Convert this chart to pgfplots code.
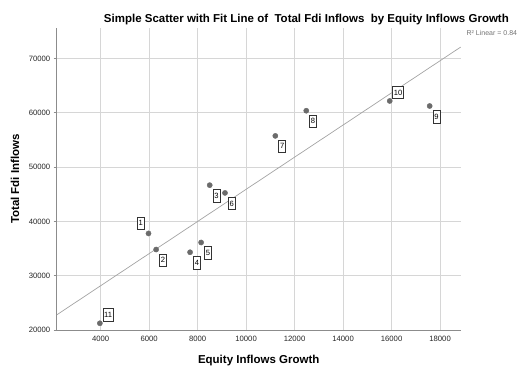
\documentclass[border=0pt]{standalone}
\usepackage{pgfplots}
\pgfplotsset{compat=1.18}
\usepackage{pgfplotstable}
\usepackage{fontspec}
\setmainfont{Liberation Sans}

\definecolor{dotgray}{HTML}{6B6B6B}
\definecolor{fitgray}{HTML}{A3A3A3}
\definecolor{gridgray}{HTML}{D6D6D6}
\definecolor{axisgray}{HTML}{8C8C8C}

% equity inflows growth, total FDI inflows, case number
\pgfplotstableread{
x y lab
6290 34815 2
8500 46667 3
7690 34315 4
8145 36111 5
9130 45240 6
11205 55740 7
12481 60370 8
17570 61240 9
}\lowright
\pgfplotstableread{
x y lab
5976 37778 1
}\upleft
\pgfplotstableread{
x y lab
15923 62167 10
3970 21240 11
}\upright

\pgfplotsset{
  casemarks/.style={only marks, mark=*, mark size=2.6pt, dotgray,
    nodes near coords, point meta=explicit symbolic,
    every node near coord/.append style={draw=black!80, line width=0.5pt, fill=white,
      text=black, font=\fontsize{7.6}{9}\selectfont, inner sep=1.4pt,
      minimum height=12.5pt, anchor=center}},
}

\begin{document}
\begin{tikzpicture}
\path[use as bounding box] (0,0) rectangle (519pt,368pt);
\begin{axis}[
  scale only axis,
  width=404pt, height=302pt,
  at={(56.7pt,38pt)}, anchor=south west,
  xmin=2190, xmax=18850,
  ymin=20000, ymax=75600,
  xtick={4000,6000,...,18000},
  ytick={20000,30000,...,70000},
  axis x line*=bottom, axis y line*=left,
  axis line style={axisgray, line width=0.6pt, -},
  grid=major,
  major grid style={gridgray, line width=0.6pt},
  x tick style={draw=none},
  y tick style={axisgray, line width=0.6pt},
  tick align=outside,
  major tick length=3pt,
  tick label style={font=\fontsize{7.7}{9}\selectfont, text=black!85},
  /pgf/number format/assume math mode=true,
  /pgf/number format/1000 sep={},
  scaled ticks=false,
  clip=false,
  xlabel={Equity Inflows Growth},
  ylabel={Total Fdi Inflows},
  xlabel style={font=\bfseries\fontsize{11.5}{13}\selectfont, at={(axis description cs:0.5,0)}, anchor=center, yshift=-30.7pt},
  ylabel style={font=\bfseries\fontsize{11.5}{13}\selectfont, at={(axis description cs:0,0.5)}, anchor=center, yshift=41.7pt},
]
% fitted least-squares line across the full axis range
\addplot[fitgray, line width=0.7pt] coordinates {(2190,22786) (18850,72094)};
\addplot[casemarks,
  every node near coord/.append style={xshift=6.8pt, yshift=-10.5pt}]
  table[x=x, y=y, meta=lab] {\lowright};
\addplot[casemarks,
  every node near coord/.append style={xshift=-7.7pt, yshift=10.3pt}]
  table[x=x, y=y, meta=lab] {\upleft};
\addplot[casemarks,
  every node near coord/.append style={xshift=8.3pt, yshift=8.5pt}]
  table[x=x, y=y, meta=lab] {\upright};
\node[anchor=center, font=\bfseries\fontsize{11.5}{13}\selectfont]
  at (rel axis cs:0.618,1) [yshift=8pt] {Simple Scatter with Fit Line of\ \ Total Fdi Inflows\ \ by Equity Inflows Growth};
\node[anchor=west, font=\fontsize{7}{8}\selectfont, text=black!55]
  at (rel axis cs:1.006,0.985) {R² Linear = 0.84};
\end{axis}
\end{tikzpicture}
\end{document}
